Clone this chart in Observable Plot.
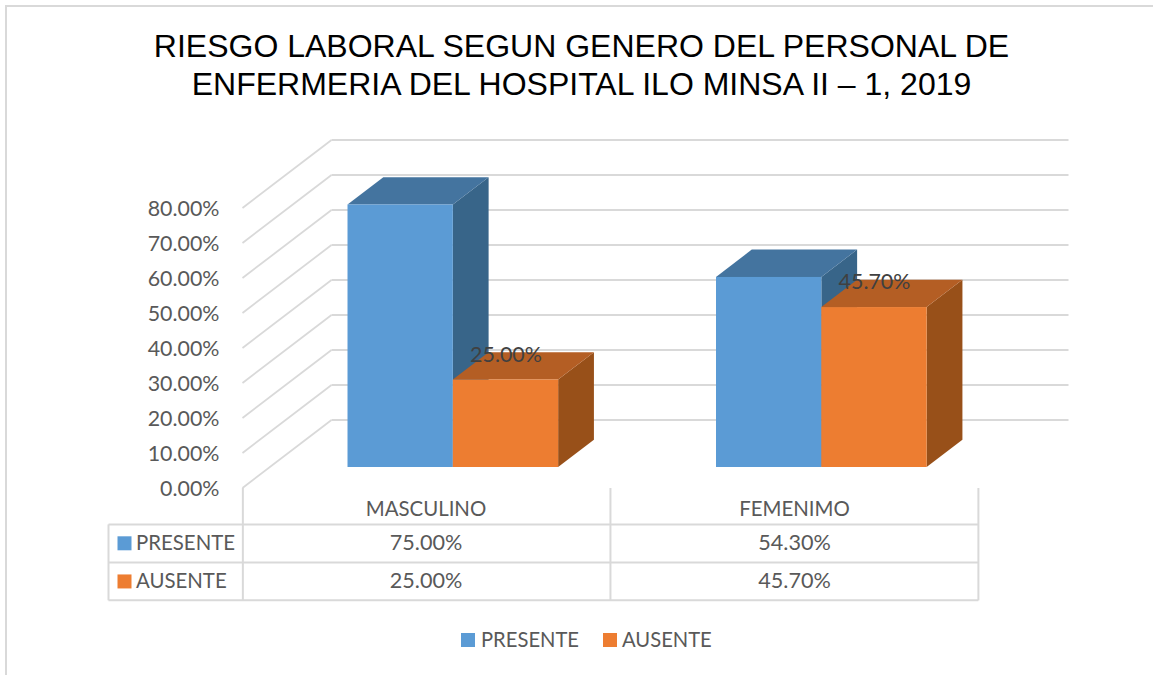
<!DOCTYPE html>
<html><head><meta charset="utf-8">
<script src="https://cdn.jsdelivr.net/npm/d3@7"></script>
<script src="https://cdn.jsdelivr.net/npm/@observablehq/plot@0.6"></script>
<style>
html,body{margin:0;padding:0;background:#fff;overflow:hidden;width:1153px;height:675px}
#frame{position:absolute;left:5px;top:5px;width:2000px;height:2000px;border:2px solid #d9d9d9;box-sizing:border-box;pointer-events:none}
#title{position:relative;height:110px;box-sizing:border-box;padding-top:26.5px;text-align:center;font:32px/38px "Liberation Sans",Arial,sans-serif;color:#000;width:1163px}
#chart{height:505px}
#chart svg{display:block;overflow:visible}
#legend{position:relative;height:60px;font:20.2px "Lato",sans-serif;color:#595959}
#legend span{position:absolute;top:12px;line-height:24px}
#legend i{position:absolute;top:18px;width:14px;height:14px}
</style></head><body>
<div id="frame"></div>
<div id="title">RIESGO LABORAL SEGUN GENERO DEL PERSONAL DE<br>ENFERMERIA DEL HOSPITAL ILO MINSA II – 1, 2019</div>
<div id="chart"></div>
<div id="legend"><i style="left:461px;background:#5b9bd5"></i><span style="left:481px">PRESENTE</span><i style="left:603px;background:#ed7d31"></i><span style="left:622px">AUSENTE</span></div>
<script>
const categories = ["MASCULINO", "FEMENIMO"];
const seriesNames = ["PRESENTE", "AUSENTE"];
const presente = [75.0, 54.3];
const ausente = [25.0, 45.7];
const yTicks = [0, 10, 20, 30, 40, 50, 60, 70, 80];

const pct = v => v.toFixed(2) + "%";
// Oblique projection of the chart's depth: z=0 front of floor, z=1 back wall
const PXU = 368.5, PYU = 3.5;
const px = (u, z) => u + z * 89 / PXU;
const py = (v, z) => v + z * 68 / PYU;
const z0 = 0.3015, z1 = 0.7035, barW = 0.2858, gap = 0.2135;

const palettes = [
  {front: "#5b9bd5", top: "#44749f", side: "#386589"},
  {front: "#ed7d31", top: "#b45e24", side: "#985019"}
];

function bar(u, v, c) {
  return [
    Plot.areaY([0, 1], {x: t => px(u + barW, t ? z1 : z0), y1: t => py(0, t ? z1 : z0), y2: t => py(v, t ? z1 : z0), fill: c.side}),
    Plot.areaX([0, 1], {y: t => py(v, t ? z1 : z0), x1: t => px(u, t ? z1 : z0), x2: t => px(u + barW, t ? z1 : z0), fill: c.top}),
    Plot.rect([v], {x1: px(u, z0), x2: px(u + barW, z0), y1: py(0, z0), y2: d => py(d, z0), fill: c.front, inset: 0})
  ];
}

const barMarks = categories.flatMap((_, i) => [
  ...bar(i + gap, presente[i], palettes[0]),
  ...bar(i + gap + barW, ausente[i], palettes[1])
]);

// data table rows, in the y units of the chart
const rowLines = [-10.4, -21.3, -32.1];
const headerY = -6.2, rowY = [-15.8, -26.7];
const tableLeft = -134 / PXU, swatchX = -118 / PXU, labelX = -106.5 / PXU;
const tableCols = [0.001, 0.9985, 1.997];
const rowValues = [presente, ausente];

const gridColor = "#d9d9d9", textColor = "#595959";

const plot = Plot.plot({
  width: 1153, height: 505,
  marginLeft: 242, marginRight: 174, marginTop: 97.5, marginBottom: 127.5,
  style: {fontFamily: "Lato, sans-serif", fontSize: "20.4px", background: "transparent", overflow: "visible"},
  x: {domain: [0, 2], axis: null},
  y: {domain: [0, 80], label: null},
  marks: [
    Plot.link(yTicks, {x1: 0, y1: d => d, x2: px(0, 1), y2: d => py(d, 1), stroke: gridColor, strokeWidth: 1.8}),
    Plot.link(yTicks, {x1: px(0, 1), y1: d => py(d, 1), x2: px(2, 1), y2: d => py(d, 1), stroke: gridColor, strokeWidth: 1.8}),
    Plot.axisY({ticks: yTicks, tickFormat: pct, tickSize: 0, tickPadding: 23, fill: textColor, label: null, fontSize: 21.4, dy: 1}),
    ...barMarks,
    Plot.text(categories.map((_, i) => i), {
      x: i => px(i + gap + barW * 1.5, z0), y: i => py(ausente[i], z0),
      text: i => pct(ausente[i]), dy: -25, fill: "#404040", fontSize: 21.4
    }),
    // data table
    Plot.link(tableCols, {x1: d => d, x2: d => d, y1: 0, y2: rowLines[2], stroke: gridColor, strokeWidth: 2}),
    Plot.link(rowLines, {x1: tableLeft, x2: tableCols[2], y1: d => d, y2: d => d, stroke: gridColor, strokeWidth: 2}),
    Plot.link([tableLeft], {x1: d => d, x2: d => d, y1: rowLines[0], y2: rowLines[2], stroke: gridColor, strokeWidth: 2}),
    Plot.text(categories, {x: (_, i) => i + 0.5 - 0.002, y: headerY, text: d => d, fill: textColor}),
    Plot.dot(seriesNames, {x: swatchX, y: (_, i) => rowY[i], symbol: "square", r: 7.9, fill: (_, i) => palettes[i].front}),
    Plot.text(seriesNames, {x: labelX, y: (_, i) => rowY[i], text: d => d, textAnchor: "start", fill: textColor}),
    ...rowValues.map((vals, r) => Plot.text(vals, {x: (_, i) => i + 0.5 - 0.002, y: rowY[r], text: d => pct(d), fill: textColor, fontSize: 21.6}))
  ]
});
document.getElementById("chart").appendChild(plot);
</script>
</body></html>
